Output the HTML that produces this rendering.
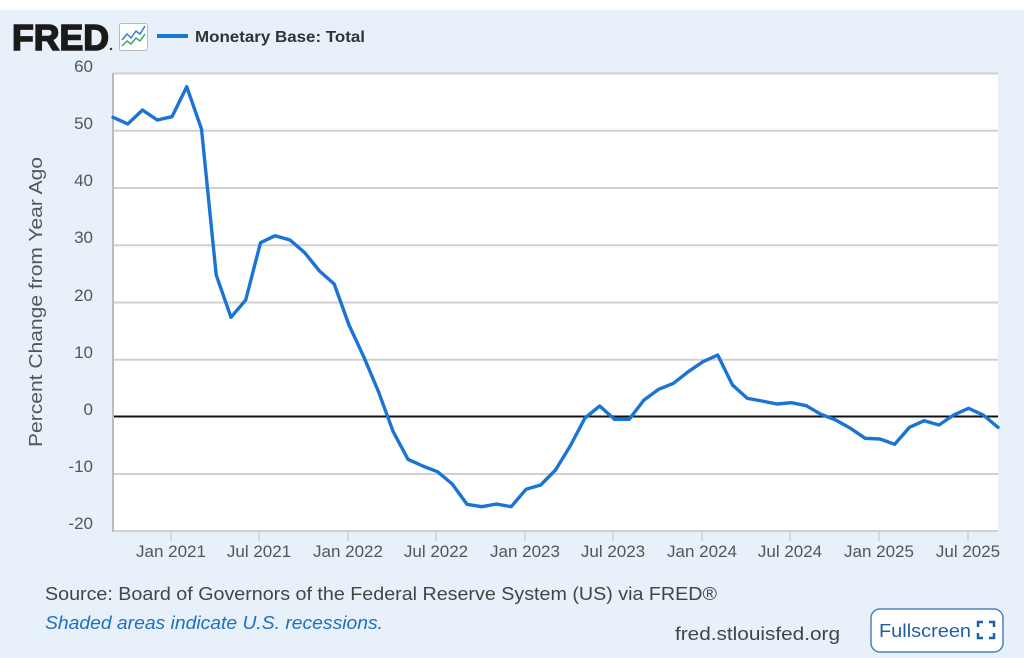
<!DOCTYPE html>
<html><head><meta charset="utf-8"><style>
html,body{margin:0;padding:0;background:#fff;}
svg{display:block;}
</style></head><body>
<svg width="1024" height="658" viewBox="0 0 1024 658" xmlns="http://www.w3.org/2000/svg" font-family="Liberation Sans, sans-serif">
<rect x="0" y="0" width="1024" height="658" fill="#fff"/>
<rect x="0" y="10" width="1024" height="648" fill="#e8f1fa"/>
<!-- header -->
<text x="12" y="50" font-size="36" font-weight="bold" fill="#1a1a1a" stroke="#1a1a1a" stroke-width="1.6" textLength="97" lengthAdjust="spacingAndGlyphs">FRED</text>
<circle cx="111" cy="49" r="1.2" fill="#333"/>
<rect x="119.5" y="23.5" width="28" height="27" rx="2" fill="#fff" stroke="#bbb"/>
<polyline points="122,40 127,34 131,38 136,31 140,34 145,26" fill="none" stroke="#3a7bd5" stroke-width="1.5"/>
<polyline points="122,46 127,41 131,44 136,38 140,41 145,34" fill="none" stroke="#3aa66a" stroke-width="1.5"/>
<line x1="157" y1="36" x2="188" y2="36" stroke="#1a74d4" stroke-width="4"/>
<text x="195" y="42" font-size="16" font-weight="bold" fill="#333" textLength="170" lengthAdjust="spacingAndGlyphs">Monetary Base: Total</text>
<!-- plot -->
<rect x="113" y="73" width="885" height="458" fill="#fff"/>
<g stroke="#d0d0d0" stroke-width="2">
<line x1="113" y1="73.5" x2="998" y2="73.5"/>
<line x1="113" y1="130.7" x2="998" y2="130.7"/>
<line x1="113" y1="188" x2="998" y2="188"/>
<line x1="113" y1="245.2" x2="998" y2="245.2"/>
<line x1="113" y1="302.5" x2="998" y2="302.5"/>
<line x1="113" y1="359.7" x2="998" y2="359.7"/>
<line x1="113" y1="474" x2="998" y2="474"/>
<line x1="113" y1="531" x2="998" y2="531"/>
</g>
<line x1="113" y1="416.5" x2="998" y2="416.5" stroke="#111" stroke-width="2"/>
<line x1="113" y1="73" x2="113" y2="532" stroke="#bbb" stroke-width="2"/>
<g stroke="#d0d0d0" stroke-width="1.5">
<line x1="171" y1="532" x2="171" y2="541"/>
<line x1="259" y1="532" x2="259" y2="541"/>
<line x1="348" y1="532" x2="348" y2="541"/>
<line x1="436" y1="532" x2="436" y2="541"/>
<line x1="525" y1="532" x2="525" y2="541"/>
<line x1="613" y1="532" x2="613" y2="541"/>
<line x1="702" y1="532" x2="702" y2="541"/>
<line x1="790" y1="532" x2="790" y2="541"/>
<line x1="879" y1="532" x2="879" y2="541"/>
<line x1="968" y1="532" x2="968" y2="541"/>
</g>
<g font-size="17" fill="#555" text-anchor="end">
<text x="93" y="72">60</text>
<text x="93" y="129">50</text>
<text x="93" y="186">40</text>
<text x="93" y="243">30</text>
<text x="93" y="301">20</text>
<text x="93" y="358">10</text>
<text x="93" y="415">0</text>
<text x="93" y="472">-10</text>
<text x="93" y="529">-20</text>
</g>
<g font-size="17" fill="#555" text-anchor="middle">
<text x="171" y="557">Jan 2021</text>
<text x="259" y="557">Jul 2021</text>
<text x="348" y="557">Jan 2022</text>
<text x="436" y="557">Jul 2022</text>
<text x="525" y="557">Jan 2023</text>
<text x="613" y="557">Jul 2023</text>
<text x="702" y="557">Jan 2024</text>
<text x="790" y="557">Jul 2024</text>
<text x="879" y="557">Jan 2025</text>
<text x="968" y="557">Jul 2025</text>
</g>
<text transform="translate(42,302) rotate(-90)" font-size="18" fill="#555" text-anchor="middle" textLength="290" lengthAdjust="spacingAndGlyphs">Percent Change from Year Ago</text>
<polyline fill="none" stroke="#1a74d4" stroke-width="3.4" stroke-linejoin="round" stroke-linecap="round" points="
113,117.3 127.7,124 142.5,110 157.2,120 172,116.7 186.7,86.7 201.5,129 216.2,275 231,317.3 245.7,300
260.5,242.7 275.2,235.7 290,240 304.7,252.7 319.5,271 334.2,284 349,325 363.7,356.7 378.5,391.7 393.2,431.7
408,459.3 422.7,466 437.5,471.7 452.2,484 467,504.3 481.7,506.7 496.5,504 511.2,506.7 526,489.3 540.7,485
555.5,470 570.2,446 585,418 599.7,406 614.5,419.3 629.2,419.3 644,400 658.7,389.3 673.5,383.3 688.2,371.7
703,361.7 717.7,355 732.5,385 747.2,398.3 762,401 776.7,404 791.5,402.7 806.2,405.7 821,414.3 835.7,420
850.5,428.3 865.2,438.3 880,439 894.7,444.3 909.5,427.3 924.2,420.7 939,425 953.7,415 968.5,408.3 983.2,415 998,427.3"/>
<!-- footer -->
<text x="45" y="600" font-size="18" fill="#444" textLength="672" lengthAdjust="spacingAndGlyphs">Source: Board of Governors of the Federal Reserve System (US) via FRED®</text>
<text x="45" y="629" font-size="18" font-style="italic" fill="#1f6fc0" textLength="338" lengthAdjust="spacingAndGlyphs">Shaded areas indicate U.S. recessions.</text>
<text x="675" y="640" font-size="18" fill="#444" textLength="165" lengthAdjust="spacingAndGlyphs">fred.stlouisfed.org</text>
<rect x="871" y="609" width="132" height="43" rx="9" fill="#fff" stroke="#4a80bf" stroke-width="1.5"/>
<text x="879" y="637" font-size="18" fill="#1f5fa8" textLength="92" lengthAdjust="spacingAndGlyphs">Fullscreen</text>
<g fill="none" stroke="#1f5fa8" stroke-width="2.5">
<polyline points="978,627 978,622 983,622"/>
<polyline points="989,622 994,622 994,627"/>
<polyline points="978,633 978,638 983,638"/>
<polyline points="989,638 994,638 994,633"/>
</g>
</svg>
</body></html>
